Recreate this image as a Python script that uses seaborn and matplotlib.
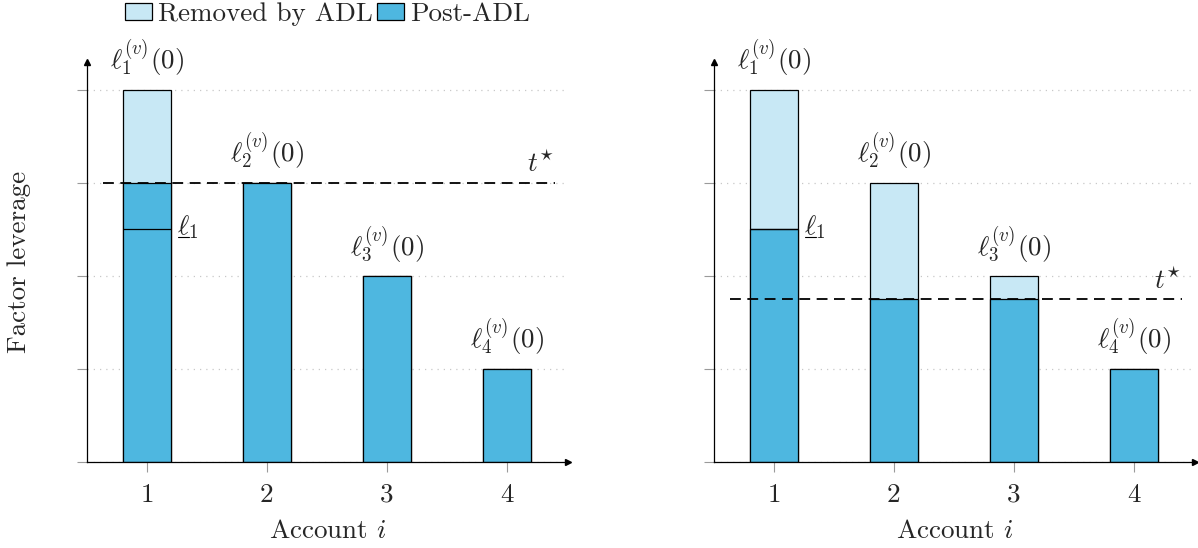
import matplotlib
matplotlib.use("Agg")
import matplotlib.pyplot as plt
from matplotlib.patches import Patch
import seaborn as sns

# ---------------- data ----------------
accounts = [1, 2, 3, 4]
tick_labels = ["1", "2", "3", "4"]
initial_leverage = [4, 3, 2, 1]            # ell_i^(v)(0)
post_left = [3, 3, 2, 1]                   # post-ADL, left scenario
post_right = [2.5, 1.75, 1.75, 1]          # post-ADL, right scenario
t_star_left = 3.0
t_star_right = 1.75
floor_1 = 2.5                              # underline ell_1
top_labels = [r"$\ell_{1}^{(v)}(0)$", r"$\ell_{2}^{(v)}(0)$",
              r"$\ell_{3}^{(v)}(0)$", r"$\ell_{4}^{(v)}(0)$"]
legend_labels = ["Removed by ADL", "Post-ADL"]
xlabel = r"Account $i$"
ylabel = "Factor leverage"

# ---------------- style ----------------
LIGHT = "#C8E8F5"
DARK = "#4EB7E0"
FS = 19.5
BAR_W = 0.4
T_SPAN = (0.63, 4.4)

sns.set_theme(style="ticks")
plt.rcParams["font.family"] = ["cmr10", "DejaVu Serif"]
plt.rcParams["mathtext.fontset"] = "cm"
plt.rcParams["axes.unicode_minus"] = False
plt.rcParams["axes.formatter.use_mathtext"] = True

fig = plt.figure(figsize=(11.98, 5.48), dpi=100)
W, H = 1198, 548
axL = fig.add_axes([87 / W, 86 / H, 481 / W, 400 / H])
axR = fig.add_axes([714 / W, 86 / H, 481 / W, 400 / H])


def draw_panel(ax, post, t_star):
    sns.barplot(x=accounts, y=initial_leverage, native_scale=True, width=BAR_W,
                color=LIGHT, saturation=1, edgecolor="black", linewidth=0.9,
                errorbar=None, ax=ax, zorder=2)
    sns.barplot(x=accounts, y=post, native_scale=True, width=BAR_W,
                color=DARK, saturation=1, edgecolor="black", linewidth=0.9,
                errorbar=None, ax=ax, zorder=2)
    # floor line for account 1
    x1 = accounts[0]
    ax.hlines(floor_1, x1 - BAR_W / 2, x1 + BAR_W / 2, colors="black",
              linewidth=0.9, zorder=3)
    ax.annotate(r"$\ell_1$", xy=(x1 + BAR_W / 2, floor_1), xytext=(4.5, -3.5),
                textcoords="offset points", ha="left", va="baseline", fontsize=FS)
    ax.plot([x1 + BAR_W / 2 + 0.055, x1 + BAR_W / 2 + 0.15],
            [floor_1 - 0.08, floor_1 - 0.08], color="black", linewidth=0.8)
    # threshold
    ax.hlines(t_star, T_SPAN[0], T_SPAN[1], colors="black",
              linestyles=(0, (6, 3.6)), linewidth=1.3, zorder=4)
    ax.annotate(r"$t^{\star}$", xy=(T_SPAN[1], t_star), xytext=(0, 4),
                textcoords="offset points", ha="right", va="bottom", fontsize=FS)
    # labels on top
    for x, h, lab in zip(accounts, initial_leverage, top_labels):
        ax.annotate(lab, xy=(x, h), xytext=(0, 8), textcoords="offset points",
                    ha="center", va="bottom", fontsize=FS)
    # axes styling
    ax.set_xlim(0.5, 4.51)
    ax.set_ylim(0, 4.3)
    ax.set_xticks(accounts)
    ax.set_xticklabels(tick_labels)
    ax.set_yticks([0, 1, 2, 3, 4])
    ax.set_yticklabels([])
    ax.tick_params(axis="both", length=7.2, width=0.8, color="#9a9a9a",
                   direction="out", pad=8, labelsize=FS, bottom=True, left=True)
    ax.yaxis.grid(True, linestyle=(0, (1, 4)), color="#c8c8c8", linewidth=0.9)
    ax.set_axisbelow(True)
    for s in ["top", "right"]:
        ax.spines[s].set_visible(False)
    for s in ["left", "bottom"]:
        ax.spines[s].set_color("black")
        ax.spines[s].set_linewidth(0.9)
    ax.plot(1, 0, marker=">", color="black", markersize=5,
            transform=ax.transAxes, clip_on=False)
    ax.plot(0, 1, marker="^", color="black", markersize=5,
            transform=ax.transAxes, clip_on=False)
    ax.set_xlabel(xlabel, fontsize=FS, labelpad=9)
    ax.set_ylabel("")


draw_panel(axL, post_left, t_star_left)
draw_panel(axR, post_right, t_star_right)
axL.set_ylabel(ylabel, fontsize=FS, labelpad=25)

handles = [Patch(facecolor=LIGHT, edgecolor="black", linewidth=0.9, label=legend_labels[0]),
           Patch(facecolor=DARK, edgecolor="black", linewidth=0.9, label=legend_labels[1])]
axL.legend(handles=handles, loc="center", bbox_to_anchor=(0.5, 1.12), ncol=2,
           frameon=False, fontsize=FS, handlelength=1.0, handleheight=0.6,
           handletextpad=0.25, columnspacing=0.12, borderpad=0, borderaxespad=0)

fig.savefig("out.png", dpi=100)
